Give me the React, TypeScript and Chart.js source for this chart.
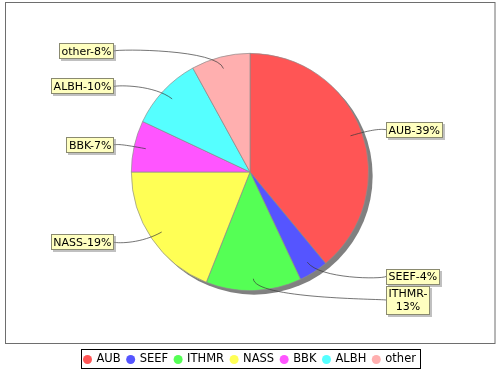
import React, { useEffect, useRef } from 'react';
import { Chart, registerables } from 'chart.js';

Chart.register(...registerables);

const categories = ['AUB', 'SEEF', 'ITHMR', 'NASS', 'BBK', 'ALBH', 'other'];
const shares = [39, 4, 13, 19, 7, 10, 8];
const sliceColors = ['#FF5555', '#5555FF', '#55FF55', '#FFFF55', '#FF55FF', '#55FFFF', '#FFAFAF'];

const FONT_FAMILY = '"DejaVu Sans", sans-serif';
const LABEL_FONT = `11px ${FONT_FAMILY}`;
const LEGEND_FONT = `11.5px ${FONT_FAMILY}`;

const jfreePlugin = {
  id: 'jfreeLook',
  beforeDraw(chart: any) {
    const ctx = chart.ctx;
    ctx.save();
    ctx.fillStyle = '#ffffff';
    ctx.fillRect(0, 0, chart.width, chart.height);
    ctx.strokeStyle = '#6e6e6e';
    ctx.lineWidth = 1;
    ctx.strokeRect(5.5, 2.5, 489.5, 341);
    ctx.restore();
  },
  beforeDatasetsDraw(chart: any) {
    const ctx = chart.ctx;
    const arc = chart.getDatasetMeta(0).data[0];
    if (!arc) return;
    const { x, y, outerRadius } = arc.getProps(['x', 'y', 'outerRadius'], true);
    ctx.save();
    ctx.fillStyle = '#808080';
    ctx.beginPath();
    ctx.arc(x + 4, y + 4, outerRadius, 0, Math.PI * 2);
    ctx.fill();
    ctx.restore();
  },
  afterDatasetsDraw(chart: any) {
    const ctx = chart.ctx;
    const meta = chart.getDatasetMeta(0);
    const values: number[] = chart.data.datasets[0].data;
    const total = values.reduce((a, b) => a + b, 0);
    ctx.save();
    ctx.font = LABEL_FONT;
    const lineH = 13;
    const items: any[] = [];
    meta.data.forEach((el: any, i: number) => {
      const p = el.getProps(['x', 'y', 'startAngle', 'endAngle', 'outerRadius'], true);
      const mid = (p.startAngle + p.endAngle) / 2;
      const c = Math.cos(mid);
      const s = Math.sin(mid);
      const pct = Math.round((values[i] / total) * 100);
      const text = `${chart.data.labels[i]}-${pct}%`;
      let lines = [text];
      if (ctx.measureText(text).width > 61) {
        const k = text.indexOf('-');
        lines = [text.slice(0, k + 1), text.slice(k + 1)];
      }
      const w = Math.max(...lines.map((l) => ctx.measureText(l).width)) + 5;
      const h = lines.length * lineH + 3;
      items.push({
        i, c, s, lines, w, h,
        cx: p.x, cy: p.y, r: p.outerRadius,
        right: c >= 0,
        y: p.y + s * 125,
      });
    });
    for (const side of [true, false]) {
      const group = items.filter((it) => it.right === side).sort((a, b) => a.y - b.y);
      for (let pass = 0; pass < 30; pass++) {
        for (let k = 0; k < group.length - 1; k++) {
          const a = group[k];
          const b = group[k + 1];
          const ov = a.y + a.h / 2 + 1 - (b.y - b.h / 2);
          if (ov > 0) {
            a.y -= ov * 0.25;
            b.y += ov * 0.75;
          }
        }
      }
    }
    items.forEach((it) => {
      const { cx, cy, r, c, s } = it;
      const anchorX = it.right ? cx + 131 : cx - 131;
      const targetX = it.right ? anchorX + 5 : anchorX - 5;
      const elbowX = cx + c * 131;
      const elbowY = cy + s * 127;
      const linkX = cx + c * r * 0.9;
      const linkY = cy + s * r * 0.9;
      ctx.strokeStyle = '#3a3a3a';
      ctx.lineWidth = 0.7;
      ctx.beginPath();
      ctx.moveTo(targetX, it.y);
      ctx.bezierCurveTo(anchorX, elbowY, elbowX, elbowY, linkX, linkY);
      ctx.stroke();

      const bx = it.right ? targetX : targetX - it.w;
      const by = it.y - it.h / 2;
      ctx.fillStyle = 'rgba(140,140,140,0.55)';
      ctx.fillRect(Math.round(bx) + 2, Math.round(by) + 2, Math.round(it.w), Math.round(it.h));
      ctx.fillStyle = '#FFFFC0';
      ctx.fillRect(Math.round(bx), Math.round(by), Math.round(it.w), Math.round(it.h));
      ctx.strokeStyle = '#8a8a70';
      ctx.lineWidth = 1;
      ctx.strokeRect(Math.round(bx) + 0.5, Math.round(by) + 0.5, Math.round(it.w) - 1, Math.round(it.h) - 1);
      ctx.fillStyle = '#000000';
      ctx.textAlign = 'center';
      ctx.textBaseline = 'middle';
      it.lines.forEach((l: string, k: number) => {
        ctx.fillText(l, bx + it.w / 2, by + 2 + lineH / 2 + k * lineH + 0.5);
      });
    });
    ctx.restore();
  },
  afterDraw(chart: any) {
    const ctx = chart.ctx;
    const labels: string[] = chart.data.labels;
    const colors: string[] = chart.data.datasets[0].backgroundColor;
    ctx.save();
    ctx.font = LEGEND_FONT;
    const dot = 9;
    const gapAfterDot = 4.5;
    const gapAfterText = 5.5;
    const widths = labels.map((l) => ctx.measureText(l).width);
    let total = 3;
    widths.forEach((w, k) => {
      total += dot + gapAfterDot + w + (k < widths.length - 1 ? gapAfterText : 0);
    });
    total += 3;
    const left = Math.round(250 - total / 2);
    const top = 349;
    const h = 19;
    ctx.strokeStyle = '#000000';
    ctx.lineWidth = 1;
    ctx.strokeRect(left + 0.5, top + 0.5, Math.round(total), h);
    let x = left + 2;
    const cyL = top + h / 2 + 1;
    labels.forEach((l, k) => {
      ctx.fillStyle = colors[k];
      ctx.beginPath();
      ctx.arc(x + dot / 2, cyL, dot / 2, 0, Math.PI * 2);
      ctx.fill();
      x += dot + gapAfterDot;
      ctx.fillStyle = '#000000';
      ctx.textAlign = 'left';
      ctx.textBaseline = 'middle';
      ctx.fillText(l, x, cyL);
      x += widths[k] + gapAfterText;
    });
    ctx.restore();
  },
};

export default function App() {
  const ref = useRef<HTMLCanvasElement | null>(null);
  useEffect(() => {
    if (!ref.current) return;
    const chart = new Chart(ref.current, {
      type: 'pie',
      data: {
        labels: categories,
        datasets: [
          {
            data: shares,
            backgroundColor: sliceColors,
            borderColor: '#8c8c8c',
            borderWidth: 0.7,
          },
        ],
      },
      options: {
        responsive: false,
        animation: false,
        layout: { padding: { left: 131, right: 131, top: 53, bottom: 79 } },
        plugins: {
          legend: { display: false },
          tooltip: { enabled: false },
        },
      },
      plugins: [jfreePlugin],
    } as any);
    return () => chart.destroy();
  }, []);
  return (
    <div style={{ position: 'absolute', left: 0, top: 0, width: 500, height: 370 }}>
      <canvas ref={ref} width={500} height={370} style={{ width: 500, height: 370 }} />
    </div>
  );
}
